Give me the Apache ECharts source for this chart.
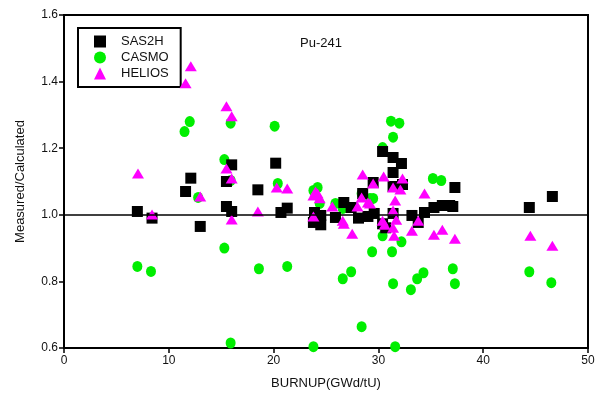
<!DOCTYPE html>
<html><head><meta charset="utf-8">
<script src="https://cdn.jsdelivr.net/npm/echarts@6/dist/echarts.min.js"></script>
<style>html,body{margin:0;padding:0;background:#fff}#c{width:603px;height:403px}</style>
</head><body><div id="c"></div>
<script>
const sas2h = [[7.0,1.01],[8.4,0.99],[11.6,1.07],[12.1,1.11],[13.0,0.965],[15.5,1.10],[15.5,1.025],[16.0,1.15],[16.0,1.01],[18.5,1.075],[20.2,1.155],[20.7,1.007],[21.3,1.02],[23.9,1.007],[23.8,0.977],[24.5,0.998],[24.5,0.97],[25.9,0.992],[26.7,1.037],[27.4,1.022],[28.1,0.99],[28.5,1.064],[29.0,0.995],[29.6,1.004],[29.5,1.097],[30.4,1.19],[30.4,0.973],[30.7,0.961],[31.4,1.172],[31.4,1.127],[31.4,1.085],[31.4,1.004],[32.2,1.154],[32.3,1.091],[33.2,0.998],[33.8,0.977],[34.4,1.007],[35.3,1.022],[36.1,1.028],[36.8,1.028],[37.1,1.025],[37.3,1.082],[44.4,1.022],[46.6,1.055]];
const casmo = [[7.0,0.845],[8.3,0.83],[11.5,1.25],[12.0,1.28],[12.8,1.052],[15.3,1.166],[15.3,0.9],[15.9,1.275],[15.9,1.103],[15.9,0.615],[18.6,0.838],[20.1,1.266],[20.4,1.094],[21.3,0.845],[23.8,1.073],[23.8,0.604],[24.2,1.082],[24.4,1.034],[25.9,1.034],[26.6,1.019],[26.6,0.808],[27.4,0.829],[28.4,1.064],[28.4,0.664],[29.2,1.049],[29.4,0.889],[29.5,1.049],[30.4,1.202],[30.4,0.937],[31.2,1.281],[31.3,0.889],[31.4,1.233],[31.4,0.793],[31.6,0.604],[32.0,1.275],[32.2,0.919],[33.1,0.775],[33.7,0.808],[34.3,0.826],[35.2,1.109],[36.0,1.103],[37.1,0.838],[37.3,0.793],[44.4,0.829],[46.5,0.796]];
const helios = [[7.06,1.124],[8.4,1.001],[11.6,1.395],[12.1,1.446],[13.0,1.055],[15.5,1.326],[15.5,1.139],[16.0,1.296],[16.0,1.109],[16.0,0.986],[18.5,1.01],[20.3,1.082],[21.3,1.079],[23.8,1.058],[23.8,0.995],[24.2,1.064],[24.0,1.07],[24.4,1.05],[25.6,1.025],[26.6,0.982],[26.7,0.973],[27.5,0.943],[28.0,1.025],[28.4,1.052],[28.5,1.121],[29.0,1.037],[29.2,1.034],[29.5,1.094],[30.4,0.982],[30.5,1.115],[30.6,0.970],[31.4,1.082],[31.4,1.013],[31.4,0.961],[31.5,0.937],[31.6,1.043],[31.7,0.985],[32.1,1.076],[32.3,1.109],[33.2,0.952],[33.8,0.982],[34.4,1.064],[35.3,0.940],[36.1,0.955],[37.3,0.928],[44.5,0.937],[46.6,0.907]];
const xTicks = [0,10,20,30,40,50];
const yTicks = [0.6,0.8,1.0,1.2,1.4,1.6];

const font = "'Liberation Sans', Arial, sans-serif";
const chart = echarts.init(document.getElementById('c'), null, {renderer:'canvas'});
chart.setOption({
  animation:false,
  backgroundColor:'#fff',
  textStyle:{fontFamily:font},
  title:{text:'Pu-241', left:295, top:32, textStyle:{fontSize:13, fontWeight:'normal', color:'#111', fontFamily:font}},
  legend:{
    orient:'vertical', left:78, top:28,
    borderColor:'#000', borderWidth:2, padding:[7,12,7,16],
    itemGap:3, itemWidth:12, itemHeight:12,
    textStyle:{fontSize:13, color:'#111', fontFamily:font, padding:[0,0,0,10]},
    data:[{name:'SAS2H',icon:'rect'},{name:'CASMO',icon:'circle'},{name:'HELIOS',icon:'triangle'}]
  },
  grid:{left:64, right:15, top:15, bottom:55, show:true, borderColor:'#000', borderWidth:2},
  xAxis:{type:'value', min:xTicks[0], max:xTicks[xTicks.length-1], interval:10,
    name:'BURNUP(GWd/tU)', nameLocation:'middle', nameGap:29,
    nameTextStyle:{fontSize:13, color:'#111', fontFamily:font},
    axisLine:{lineStyle:{color:'#000', width:2}},
    axisTick:{inside:false, length:5, lineStyle:{color:'#000', width:1.5}},
    axisLabel:{fontSize:12, color:'#111', margin:7, fontFamily:font},
    splitLine:{show:false}},
  yAxis:{type:'value', min:yTicks[0], max:yTicks[yTicks.length-1], interval:0.2,
    name:'Measured/Calculated', nameLocation:'middle', nameGap:37,
    nameTextStyle:{fontSize:13, color:'#111', fontFamily:font},
    axisLine:{lineStyle:{color:'#000', width:2}},
    axisTick:{inside:false, length:5, lineStyle:{color:'#000', width:1.5}},
    axisLabel:{fontSize:12, color:'#111', margin:6, fontFamily:font, formatter:v=>v.toFixed(1)},
    splitLine:{show:false}},
  series:[
    {name:'CASMO', type:'scatter', data:casmo, symbol:'circle', symbolSize:[10,11], itemStyle:{color:'#00ee00', opacity:1}, z:2},
    {name:'SAS2H', type:'scatter', data:sas2h, symbol:'rect', symbolSize:11, itemStyle:{color:'#000', opacity:1}, z:3,
      markLine:{silent:true, symbol:'none', label:{show:false}, lineStyle:{color:'#000', width:1.5, type:'solid'}, data:[{yAxis:1.0}]}},
    {name:'HELIOS', type:'scatter', data:helios, symbol:'triangle', symbolSize:[12,10], itemStyle:{color:'#ff00ff', opacity:1}, z:4}
  ]
});
</script></body></html>
